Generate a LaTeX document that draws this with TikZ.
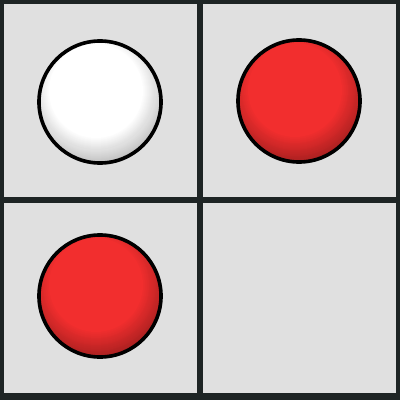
\documentclass[tikz,border=0pt]{standalone}
\usetikzlibrary{positioning}
\definecolor{framegray}{HTML}{1E2424}
\definecolor{cellgray}{HTML}{E0E0E0}
\definecolor{ballred}{HTML}{F22E2E}
\tikzset{ball/.style={circle, draw=black, line width=0.09cm, inner sep=0pt, minimum size=3.05cm}}
% soft shade towards the lower rim
\newcommand{\ballfill}[3]{%
  \begin{scope}
    \clip (#1) circle (61);
    \fill[#2!#3!black] (#1) circle (62);
    \foreach \k in {0,...,26}{
      \pgfmathtruncatemacro\mix{#3+(100-#3)*\k/26}
      \fill[#2!\mix!black] ([shift={(-4,-11)}]#1) circle ({73-\k});
    }
  \end{scope}}

\begin{document}
\begin{tikzpicture}[x=0.025cm,y=-0.025cm]
\fill[framegray] (0,0) rectangle (400,400);
\fill[cellgray] (4,4) rectangle (197,197);
\fill[cellgray] (203,4) rectangle (396,197);
\fill[cellgray] (4,203) rectangle (197,393);
\fill[cellgray] (203,203) rectangle (396,393);

\coordinate (cW) at (100,102);
\coordinate (cR1) at (299,101);
\coordinate (cR2) at (100,296);

\ballfill{cW}{white}{76}
\ballfill{cR1}{ballred}{70}
\ballfill{cR2}{ballred}{70}

\node[ball] (W) at (cW) {};
\node[ball] (R1) at (cR1) {};
\node[ball] (R2) at (cR2) {};
\end{tikzpicture}
\end{document}
